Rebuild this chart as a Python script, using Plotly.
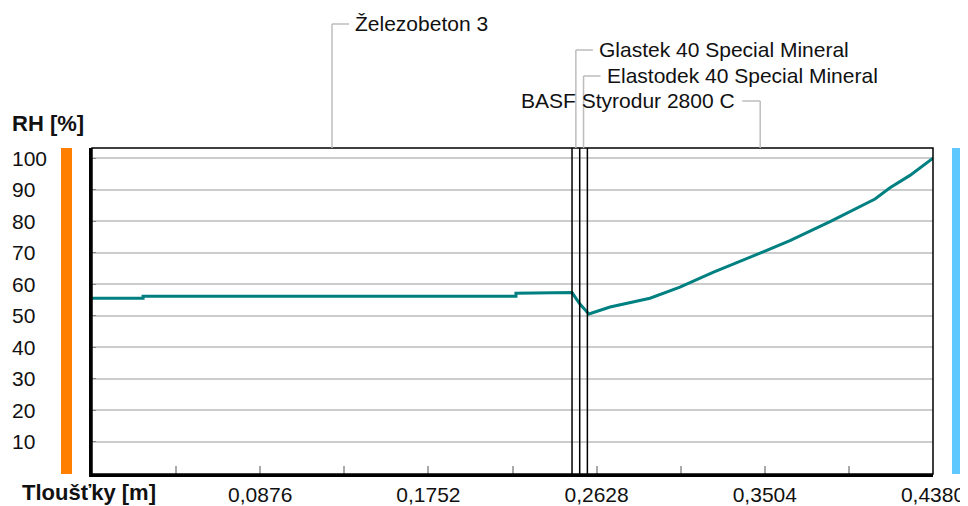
import plotly.graph_objects as go
import numpy as np

# ---- data ----
x_pos = [0.0, 0.0266, 0.0266, 0.2208, 0.2208, 0.2500, 0.2542, 0.2588, 0.2698, 0.2906,
         0.3062, 0.3234, 0.3479, 0.3635, 0.3844, 0.3948, 0.4078, 0.4156, 0.4260, 0.4380]
rh = [55.5, 55.5, 56.1, 56.1, 57.1, 57.3, 53.6, 50.5, 52.7, 55.5,
      59.0, 63.7, 69.8, 73.8, 79.8, 83.0, 87.0, 90.6, 94.5, 100.0]

layer_names = ["Železobeton 3", "Glastek 40 Special Mineral",
               "Elastodek 40 Special Mineral", "BASF Styrodur 2800 C"]
layer_thickness = [0.25, 0.004, 0.004, 0.18]
label_rows = [24, 50, 76, 101]          # pixel row of each label (window coords)
label_side = ["right", "right", "right", "left"]

x_tick_vals = [0.0438 * i for i in range(11)]
x_tick_text = ["", "", "0,0876", "", "0,1752", "", "0,2628", "", "0,3504", "", "0,4380"]
y_tick_vals = [10, 20, 30, 40, 50, 60, 70, 80, 90, 100]

# ---- geometry (page body has an 8px margin) ----
OFF = 8
WIN_W, WIN_H = 968, 506
W, H = WIN_W - OFF, WIN_H - OFF
PL, PR, PT, PB = 92, 933, 148, 474          # plot box in window pixels
ML, MR, MT, MB = PL - OFF, WIN_W - PR, PT - OFF, WIN_H - PB
PW, PH = PR - PL, PB - PT
X_MAX = 0.438
Y_RANGE = [-0.3, 103.2]

def px2paperx(px):
    return (px - PL) / PW

def py2papery(py):
    return (PB - py) / PH

FONT = "Liberation Sans"
FS = 21
GRID = "#cccccc"
LEAD = "#bdbdbd"
TXT = "#111111"

bounds = np.cumsum([0] + layer_thickness)
mids = [(bounds[i] + bounds[i + 1]) / 2 for i in range(len(layer_thickness))]

fig = go.Figure()
fig.add_trace(go.Scatter(x=x_pos, y=rh, mode="lines",
                         line=dict(color="#008080", width=3), hoverinfo="skip",
                         showlegend=False))

shapes = []
for b in bounds[1:-1]:
    shapes.append(dict(type="line", xref="x", yref="y domain", x0=b, x1=b, y0=0, y1=1,
                       line=dict(color="black", width=1.5)))
shapes.append(dict(type="rect", xref="x domain", yref="y domain", x0=0, x1=1, y0=0, y1=1,
                   line=dict(color="black", width=1.5), layer="above"))
shapes.append(dict(type="rect", xref="paper", yref="paper",
                   x0=px2paperx(61), x1=px2paperx(72), y0=0, y1=1,
                   fillcolor="#ff8000", line=dict(width=0)))
shapes.append(dict(type="rect", xref="paper", yref="paper",
                   x0=px2paperx(952), x1=px2paperx(964), y0=0, y1=1,
                   fillcolor="#5ec8ff", line=dict(width=0)))

annotations = []
for name, m, row, side in zip(layer_names, mids, label_rows, label_side):
    yp = py2papery(row)
    shapes.append(dict(type="line", xref="x", yref="paper", x0=m, x1=m, y0=1, y1=yp,
                       line=dict(color=LEAD, width=1.5)))
    mpx = PL + m / X_MAX * PW
    if side == "right":
        hx = px2paperx(mpx + 17)
        annotations.append(dict(x=m, y=yp, xref="x", yref="paper", text=name,
                                showarrow=False, xanchor="left", yanchor="middle",
                                xshift=21, font=dict(family=FONT, size=FS, color=TXT)))
    else:
        hx = px2paperx(mpx - 18)
        annotations.append(dict(x=m, y=yp, xref="x", yref="paper", text=name,
                                showarrow=False, xanchor="right", yanchor="middle",
                                xshift=-23, font=dict(family=FONT, size=FS, color=TXT)))
    shapes.append(dict(type="line", xref="paper", yref="paper",
                       x0=px2paperx(mpx), x1=hx, y0=yp, y1=yp,
                       line=dict(color=LEAD, width=1.5)))

for v in y_tick_vals:
    annotations.append(dict(x=px2paperx(10), y=v, xref="paper", yref="y", text=str(v),
                            showarrow=False, xanchor="left", yanchor="middle",
                            font=dict(family=FONT, size=FS, color=TXT)))
annotations.append(dict(x=px2paperx(10), y=py2papery(123), xref="paper", yref="paper",
                        text="<b>RH [%]</b>", showarrow=False, xanchor="left",
                        yanchor="middle", font=dict(family=FONT, size=22, color=TXT)))
annotations.append(dict(x=px2paperx(20), y=py2papery(493), xref="paper", yref="paper",
                        text="<b>Tloušťky [m]</b>", showarrow=False, xanchor="left",
                        yanchor="middle", font=dict(family=FONT, size=22, color=TXT)))

fig.update_layout(
    width=W, height=H,
    margin=dict(l=ML, r=MR, t=MT, b=MB, autoexpand=False),
    paper_bgcolor="white", plot_bgcolor="white",
    shapes=shapes, annotations=annotations,
    xaxis=dict(range=[0, X_MAX], tickvals=x_tick_vals, ticktext=x_tick_text,
               ticks="inside", ticklen=8, tickcolor="#aaaaaa", tickwidth=1.5,
               showgrid=False, zeroline=False, showline=True, linecolor="black",
               linewidth=3, automargin=False,
               tickfont=dict(family=FONT, size=FS, color=TXT)),
    yaxis=dict(range=Y_RANGE, tickvals=y_tick_vals, showticklabels=False,
               ticks="inside", ticklen=4, tickcolor="#888888",
               showgrid=True, gridcolor=GRID, gridwidth=2, zeroline=False,
               showline=True, linecolor="black", linewidth=3, automargin=False),
    font=dict(family=FONT, size=FS),
)

fig.write_html("out.html")
